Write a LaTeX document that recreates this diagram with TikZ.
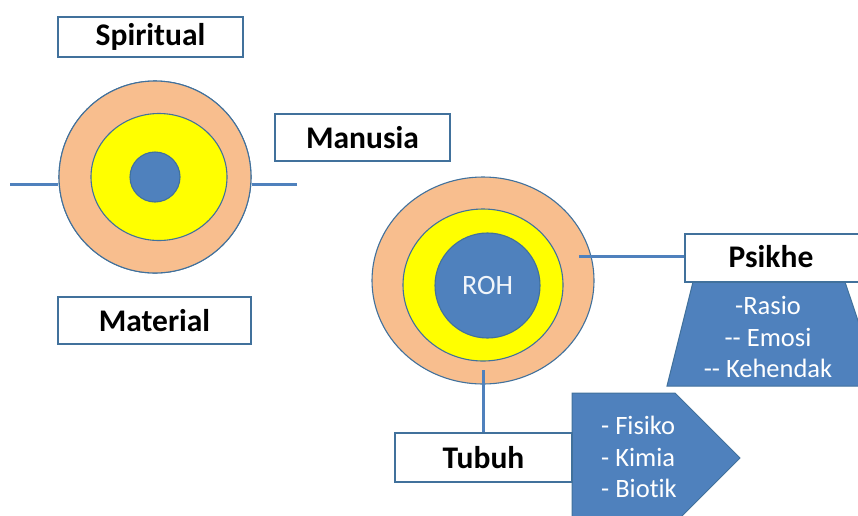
\documentclass[tikz,border=0pt]{standalone}
\usepackage{fontspec}
\setmainfont[Ligatures={NoCommon}]{Carlito}
\usetikzlibrary{shapes.geometric}
\definecolor{peach}{HTML}{F8BE8E}
\definecolor{sunyellow}{HTML}{FFFF00}
\definecolor{steelblue}{HTML}{4F81BD}
\definecolor{rimblue}{HTML}{41719C}
\tikzset{
  ring/.style={ellipse, draw=rimblue, line width=1.1pt, inner sep=0pt},
  labelbox/.style={draw=rimblue, fill=white, line width=1.8pt, inner sep=0pt,
    font=\fontsize{31.5}{36}\selectfont\bfseries},
  link/.style={draw=steelblue, line width=3pt},
  listtext/.style={text=white, font=\fontsize{26.5}{31.5}\selectfont, align=center},
  bluepanel/.style={fill=steelblue, draw=rimblue, line width=1pt}
}
\begin{document}
\begin{tikzpicture}[x=1pt, y=-1pt]
\useasboundingbox (0,0) rectangle (858,515);
\clip (0,0) rectangle (858,515);

% small model: horizontal axis behind the rings
\coordinate (axisL) at (10,184);
\coordinate (axisR) at (297,184);
\node[ring, fill=peach, minimum width=192pt, minimum height=192pt] (outerA) at (155,177) {};
\draw[link] (axisL) -- (axisL -| outerA.west);
\draw[link] (axisR) -- (axisR -| outerA.east);
\node[ring, fill=peach, minimum width=192pt, minimum height=192pt] at (155,177) {};
\node[ring, fill=sunyellow, minimum width=136pt, minimum height=127pt] (midA) at (159,177) {};
\node[ring, fill=steelblue, minimum width=50pt, minimum height=50pt] (coreA) at (155,177) {};

\node[labelbox, minimum width=185pt, minimum height=40pt] (spiritual) at (150.5,37) {Spiritual};
\node[labelbox, minimum width=175pt, minimum height=47pt] (manusia) at (362.5,137.5) {Manusia};
\node[labelbox, minimum width=193pt, minimum height=47pt] (material) at (154.5,320.5) {Material};

% large model: body, psyche and spirit
\node[ring, fill=peach, minimum width=222pt, minimum height=207pt] (outerB) at (483,280.5) {};
\node[ring, fill=sunyellow, minimum width=160pt, minimum height=152pt] (midB) at (483,285) {};
\node[ring, fill=steelblue, minimum width=105pt, minimum height=105pt] (coreB) at (487.5,285.5) {};
\node[text=white!92!steelblue, font=\fontsize{28}{32}\selectfont] (roh) at (coreB) {ROH};

% psyche panel
\path[bluepanel] (693,282) -- (845,282) -- (880,386) -- (667,386) -- cycle;
\node[labelbox, minimum width=200pt, minimum height=48pt, anchor=north west] (psikhe) at (684,233) {};
\node[font=\fontsize{31.5}{36}\selectfont\bfseries] (psikhetxt) at (771,257) {Psikhe};
\node[listtext] (psikhelist) at (768,337) {-Rasio\\-{}- Emosi\\-{}- Kehendak};
\coordinate (psikheroot) at (579,256);
\draw[link] (psikheroot) -- (psikheroot -| psikhe.west);

% body panel
\path[bluepanel] (572,393) -- (675,393) -- (740,458) -- (675,523) -- (572,523) -- cycle;
\node[labelbox, minimum width=177pt, minimum height=49pt] (tubuh) at (483.5,457.5) {Tubuh};
\node[listtext, align=left] (tubuhlist) at (639,457) {- Fisiko\\- Kimia\\- Biotik};
\coordinate (tubuhroot) at (483,370);
\draw[link] (tubuhroot) -- (tubuh.north -| tubuhroot);
\end{tikzpicture}
\end{document}
